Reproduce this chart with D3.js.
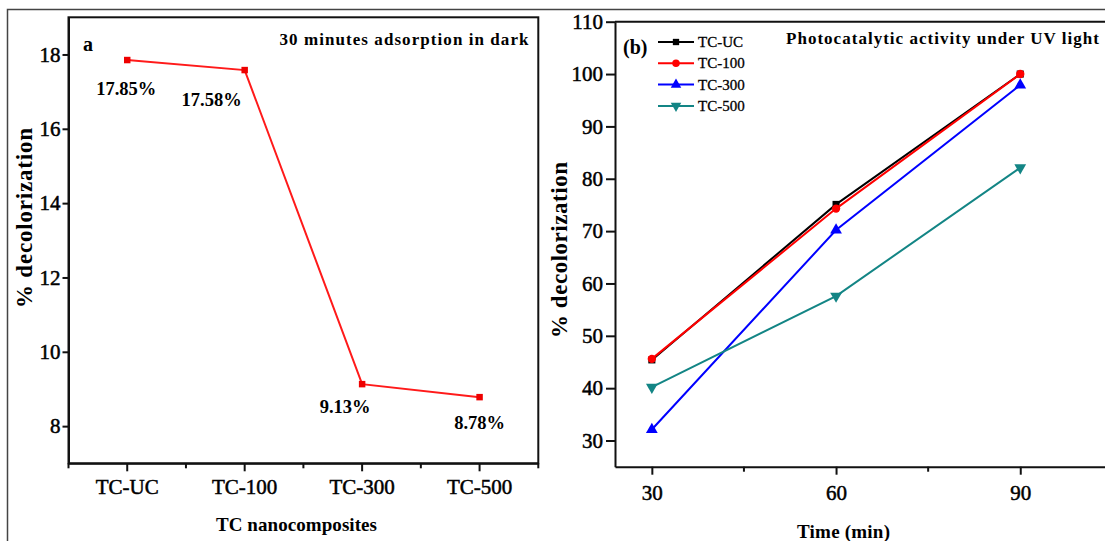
<!DOCTYPE html>
<meta charset="utf-8">

<style>

body {
  margin: 0;
  background: #fff;
}

svg text {
  font-family: "Liberation Serif", "Times New Roman", serif;
  fill: #000;
}

.tick text {
  font-size: 21px;
  stroke: #000;
  stroke-width: 0.5px;
}

.axis path,
.axis line {
  stroke: #111;
  stroke-width: 2px;
}

.bold {
  font-weight: bold;
}

</style>

<svg class="chart" width="1105" height="541"></svg>

<script src="https://d3js.org/d3.v7.min.js"></script>

<script>

// panel (a): adsorption in dark
var categories = ["TC-UC", "TC-100", "TC-300", "TC-500"];
var darkValues = [17.85, 17.58, 9.13, 8.78];
var darkLabels = ["17.85%", "17.58%", "9.13%", "8.78%"];
var leftYTicks = [8, 10, 12, 14, 16, 18];

// panel (b): photocatalytic activity under UV
var times = [30, 60, 90];
var seriesNames = ["TC-UC", "TC-100", "TC-300", "TC-500"];
var tcUC  = [45.4, 75.1, 100];
var tc100 = [45.6, 74.3, 100];
var tc300 = [32.1, 70.2, 97.9];
var tc500 = [40.2, 57.6, 82.1];
var rightYTicks = [30, 40, 50, 60, 70, 80, 90, 100, 110];
var rightXTicks = [30, 60, 90];
var rightXMinor = [45, 75];

// layout bits (not data): label offset from its point
var labelShift = [[-1, 35], [-33, 36], [-17, 29], [0, 32]];
var seriesStyle = [
  {color: "#000000", shape: d3.symbolSquare, size: 50, rot: 0},
  {color: "#ff0000", shape: d3.symbolCircle, size: 55, rot: 0},
  {color: "#0000ff", shape: d3.symbolTriangle, size: 60, rot: 0},
  {color: "#138585", shape: d3.symbolTriangle, size: 60, rot: 180}
];

var svg = d3.select("svg.chart");

// outer frame of the figure
svg.append("path")
  .attr("d", "M7.5,541V9.5H1105")
  .attr("fill", "none")
  .attr("stroke", "#444")
  .attr("stroke-width", 1.5);

// ---------- panel (a) ----------
var xA = d3.scaleBand().domain(categories).range([68.5, 538.3]);
var yA = d3.scaleLinear().domain([7, 19]).range([463.3, 17.3]);

var gA = svg.append("g");

gA.append("rect")
  .attr("x", xA.range()[0]).attr("y", yA.range()[1])
  .attr("width", xA.range()[1] - xA.range()[0])
  .attr("height", yA.range()[0] - yA.range()[1])
  .attr("fill", "none").attr("stroke", "#111").attr("stroke-width", 2);

gA.append("g")
  .attr("class", "axis")
  .attr("transform", `translate(${xA.range()[0]},0)`)
  .call(d3.axisLeft(yA).tickValues(leftYTicks).tickSize(6).tickSizeOuter(0).tickPadding(2));

gA.append("g")
  .attr("class", "axis")
  .attr("transform", `translate(0,${yA.range()[0]})`)
  .call(d3.axisBottom(xA).tickSize(8).tickSizeOuter(0).tickPadding(8))
  .selectAll(".tick text").attr("dy", "0.71em");

// minor ticks on band edges
gA.selectAll("line.minor")
  .data(d3.range(categories.length + 1))
  .enter().append("line")
    .attr("class", "minor")
    .attr("x1", function(i) { return xA.range()[0] + i * xA.step(); })
    .attr("x2", function(i) { return xA.range()[0] + i * xA.step(); })
    .attr("y1", yA.range()[0])
    .attr("y2", yA.range()[0] + 5)
    .attr("stroke", "#111").attr("stroke-width", 2);

var lineA = d3.line()
  .x(function(d, i) { return xA(categories[i]) + xA.bandwidth() / 2; })
  .y(function(d) { return yA(d); });

gA.append("path")
  .datum(darkValues)
  .attr("d", lineA)
  .attr("fill", "none")
  .attr("stroke", "#ff1a1a")
  .attr("stroke-width", 2);

gA.selectAll("path.mark")
  .data(darkValues)
  .enter().append("path")
    .attr("class", "mark")
    .attr("d", d3.symbol().type(d3.symbolSquare).size(42))
    .attr("transform", function(d, i) {
      return `translate(${xA(categories[i]) + xA.bandwidth() / 2},${yA(d)})`;
    })
    .attr("fill", "#ee0000");

gA.selectAll("text.vlabel")
  .data(darkValues)
  .enter().append("text")
    .attr("class", "vlabel bold")
    .attr("x", function(d, i) { return xA(categories[i]) + xA.bandwidth() / 2 + labelShift[i][0]; })
    .attr("y", function(d, i) { return yA(d) + labelShift[i][1]; })
    .attr("text-anchor", "middle")
    .style("font-size", "18.5px")
    .text(function(d, i) { return darkLabels[i]; });

gA.append("text")
  .attr("class", "bold")
  .attr("x", 83).attr("y", 50.5)
  .style("font-size", "20px")
  .text("a");

gA.append("text")
  .attr("class", "bold")
  .attr("x", 279.5).attr("y", 45)
  .attr("textLength", 249)
  .style("font-size", "17px")
  .text("30 minutes adsorption in dark");

gA.append("text")
  .attr("class", "bold")
  .attr("transform", "translate(32,218) rotate(-90)")
  .attr("text-anchor", "middle")
  .attr("textLength", 180)
  .style("font-size", "23px")
  .text("% decolorization");

gA.append("text")
  .attr("class", "bold")
  .attr("x", 216).attr("y", 531)
  .attr("textLength", 161)
  .style("font-size", "19px")
  .text("TC nanocomposites");

// ---------- panel (b) ----------
var xB = d3.scaleLinear().domain([24, 106]).range([615, 1118.5]);
var yB = d3.scaleLinear().domain([25, 110]).range([466.7, 21.7]);

var gB = svg.append("g");

gB.append("path")
  .attr("d", `M${xB.range()[1]},${yB.range()[1]}H${xB.range()[0]}`)
  .attr("stroke", "#111").attr("stroke-width", 2);

gB.append("g")
  .attr("class", "axis")
  .attr("transform", `translate(${xB.range()[0]},0)`)
  .call(d3.axisLeft(yB).tickValues(rightYTicks).tickSize(9).tickSizeOuter(0).tickPadding(3));

gB.append("g")
  .attr("class", "axis")
  .attr("transform", `translate(0,${yB.range()[0]})`)
  .call(d3.axisBottom(xB).tickValues(rightXTicks).tickSize(8).tickSizeOuter(0).tickPadding(10))
  .selectAll(".tick text").attr("dy", "0.71em");

gB.selectAll("line.minor")
  .data(rightXMinor)
  .enter().append("line")
    .attr("class", "minor")
    .attr("x1", function(d) { return xB(d); })
    .attr("x2", function(d) { return xB(d); })
    .attr("y1", yB.range()[0])
    .attr("y2", yB.range()[0] + 5)
    .attr("stroke", "#111").attr("stroke-width", 2);

var series = [tcUC, tc100, tc300, tc500];

var lineB = d3.line()
  .x(function(d, i) { return xB(times[i]); })
  .y(function(d) { return yB(d); });

var seriesG = gB.selectAll("g.series")
  .data(series)
  .enter().append("g")
    .attr("class", "series");

seriesG.append("path")
  .attr("d", lineB)
  .attr("fill", "none")
  .attr("stroke", function(d, i) { return seriesStyle[i].color; })
  .attr("stroke-width", 2);

seriesG.each(function(vals, s) {
  var st = seriesStyle[s];
  d3.select(this).selectAll("path.mark")
    .data(vals)
    .enter().append("path")
      .attr("class", "mark")
      .attr("d", d3.symbol().type(st.shape).size(st.size))
      .attr("transform", function(d, i) {
        return `translate(${xB(times[i])},${yB(d)}) rotate(${st.rot})`;
      })
      .attr("fill", st.color);
});

// legend
var legend = gB.selectAll("g.legend")
  .data(seriesNames)
  .enter().append("g")
    .attr("class", "legend")
    .attr("transform", function(d, i) { return `translate(658,${42 + i * 21.3})`; });

legend.append("line")
  .attr("x1", 0).attr("x2", 36)
  .attr("stroke", function(d, i) { return seriesStyle[i].color; })
  .attr("stroke-width", 2);

legend.append("path")
  .attr("d", function(d, i) { return d3.symbol().type(seriesStyle[i].shape).size(seriesStyle[i].size * 0.8)(); })
  .attr("transform", function(d, i) { return `translate(18,0) rotate(${seriesStyle[i].rot})`; })
  .attr("fill", function(d, i) { return seriesStyle[i].color; });

legend.append("text")
  .attr("x", 40).attr("y", 5)
  .style("font-size", "15px")
  .style("stroke", "#000").style("stroke-width", "0.3px")
  .text(function(d) { return d; });

gB.append("text")
  .attr("class", "bold")
  .attr("x", 623).attr("y", 53.5)
  .style("font-size", "20px")
  .text("(b)");

gB.append("text")
  .attr("class", "bold")
  .attr("x", 786).attr("y", 44)
  .attr("textLength", 313)
  .style("font-size", "17px")
  .text("Photocatalytic activity under UV light");

gB.append("text")
  .attr("class", "bold")
  .attr("transform", "translate(567,250) rotate(-90)")
  .attr("text-anchor", "middle")
  .attr("textLength", 176)
  .style("font-size", "23px")
  .text("% decolorization");

gB.append("text")
  .attr("class", "bold")
  .attr("x", 797).attr("y", 538)
  .attr("textLength", 93)
  .style("font-size", "19px")
  .text("Time (min)");

</script>
